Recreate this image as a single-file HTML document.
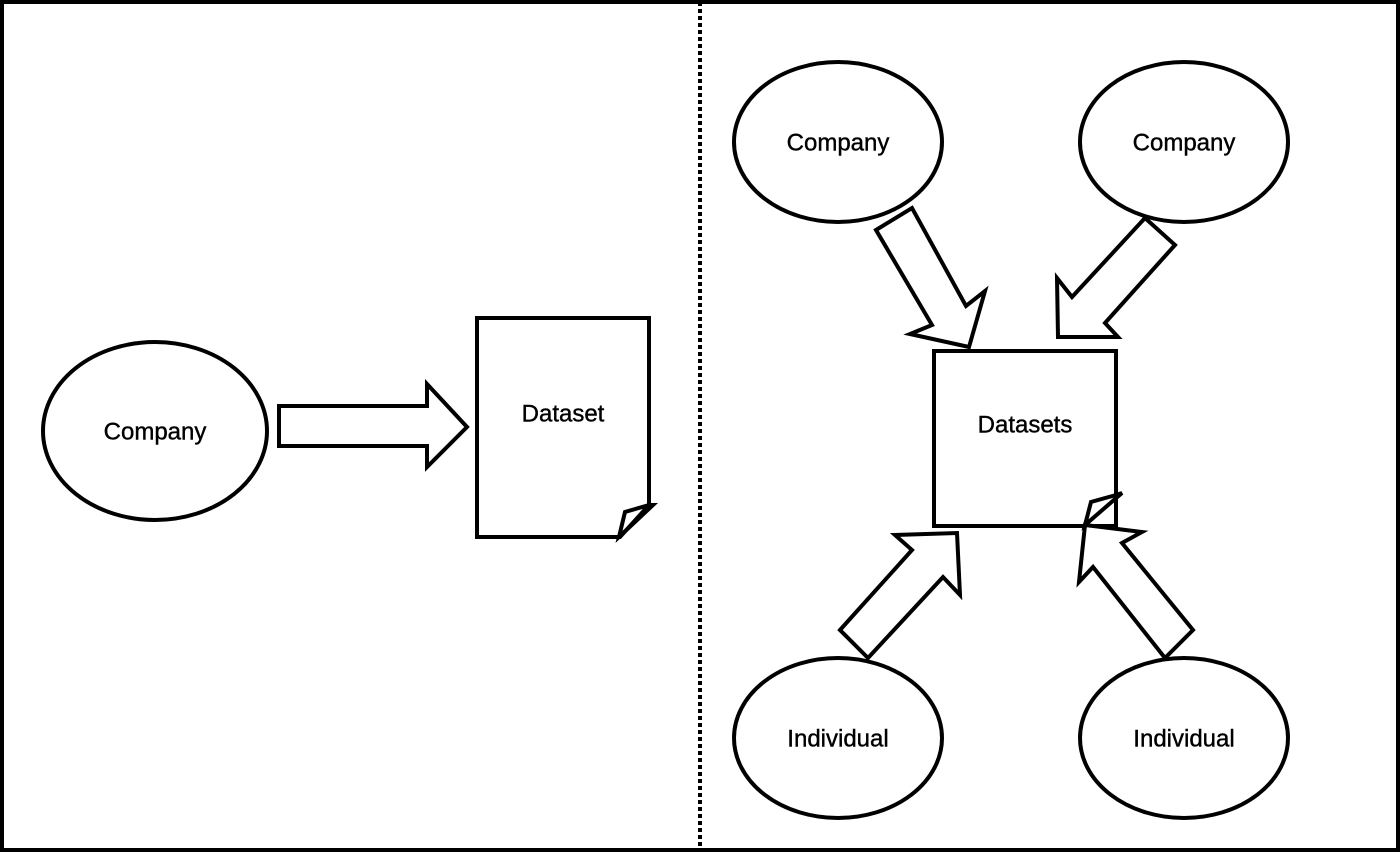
<!DOCTYPE html>
<html><head><meta charset="utf-8"><style>
html,body{margin:0;padding:0;background:#fff}
svg{display:block}
text{font-family:"Liberation Sans",sans-serif;font-size:24px;fill:#000;stroke:#000;stroke-width:0.4;text-anchor:middle;dominant-baseline:middle}
</style></head><body>
<svg width="1400" height="852" viewBox="0 0 1400 852" xmlns="http://www.w3.org/2000/svg">
<rect x="2" y="2" width="1396" height="848" fill="#fff" stroke="#000" stroke-width="4"/>
<line x1="700" y1="2" x2="700" y2="850" stroke="#000" stroke-width="4" stroke-dasharray="4,3"/>
<g fill="#fff" stroke="#000" stroke-width="4" stroke-linejoin="miter">
<ellipse cx="155" cy="431" rx="112" ry="89"/>
<polygon points="279,406 427,406 427,384 467,427 427,467 427,446 279,446"/>
<polygon points="477,318 649,318 649,505 620,537 477,537"/>
<polyline points="649,505 653,505 619,537 625,512 649,505" fill="none"/>
<ellipse cx="838" cy="142" rx="104" ry="80"/>
<ellipse cx="1184" cy="142" rx="104" ry="80"/>
<ellipse cx="838" cy="738" rx="104" ry="80"/>
<ellipse cx="1184" cy="738" rx="104" ry="80"/>
<polygon points="876,230 912,208 966,306 985,291 969,347 910,334 932,325"/>
<polygon points="1145,218 1175,245 1105,323 1118,337 1058,337 1057,278 1072,297"/>
<rect x="934" y="351" width="182" height="175"/>
<polyline points="1116,495 1122,493 1085,525 1091,502 1116,495" fill="#fff"/>
<polygon points="840,630 912,550 895,535 957,533 960,595 943,577 868,658"/>
<polygon points="1085,525 1142,532 1122,543 1193,630 1165,658 1093,567 1079,582"/>
</g>
<text x="155" y="433">Company</text>
<text x="563" y="415">Dataset</text>
<text x="838" y="144">Company</text>
<text x="1184" y="144">Company</text>
<text x="1025" y="426">Datasets</text>
<text x="838" y="740">Individual</text>
<text x="1184" y="740">Individual</text>
</svg>
</body></html>
